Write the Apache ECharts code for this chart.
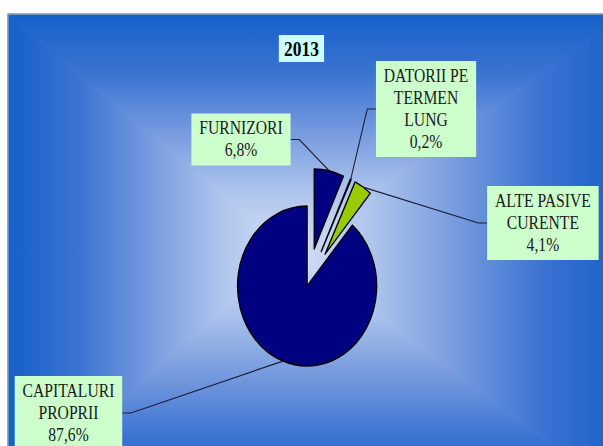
<!DOCTYPE html>
<html>
<head>
<meta charset="utf-8">
<script src="https://cdn.jsdelivr.net/npm/echarts@6/dist/echarts.min.js"></script>
<style>
html,body{margin:0;padding:0;background:#fff;overflow:hidden;width:603px;height:446px;}
#chart{width:693px;height:446px;transform:scaleX(0.87);transform-origin:0 0;}
</style>
</head>
<body>
<div id="chart"></div>
<script>
// ---- data ----
const TITLE = '2013';
const CATEGORIES = ['FURNIZORI', 'DATORII PE\nTERMEN\nLUNG', 'ALTE PASIVE\nCURENTE', 'CAPITALURI\nPROPRII'];
const VALUES = [6.8, 0.2, 4.1, 87.6];
const EXPLODED = [true, true, true, false];

// ---- styles / layout ----
const COLORS = ['#000080', '#000080', '#99cc00', '#000080'];
const LABEL_POS = [[277, 139.5], [489.7, 109], [624, 223], [78.7, 413]];
const PIE_CENTER = [353, 286];
const PIE_R = 80;
const EXPLODE = 38;
const SERIF = '"Liberation Serif", "Times New Roman", serif';

const L = 9.2, T = 14, R = 720, B = 500, CX = 333, CY = 250;
const STOPS = [
  {offset: 0, color: '#1560c8'},
  {offset: 0.25, color: '#3b73d2'},
  {offset: 0.5, color: '#759ade'},
  {offset: 0.75, color: '#adc4ec'},
  {offset: 1, color: '#d4e0f5'}
];
function grad(x0, y0, x1, y1) { return new echarts.graphic.LinearGradient(x0, y0, x1, y1, STOPS); }
function tri(points, g) {
  return {type: 'polygon', silent: true, z: -10, shape: {points: points},
          style: {fill: g, stroke: g, lineWidth: 1}};
}
const fmt = v => v.toFixed(1).replace('.', ',') + '%';

const labelStyle = {
  show: true, position: 'outside',
  formatter: p => p.name + '\n' + fmt(p.value),
  backgroundColor: '#ccffcc', padding: [4, 9],
  color: '#1a1a1a', fontFamily: SERIF, fontSize: 18, lineHeight: 22, align: 'center'
};
const lineStyle = {show: true, length: 10, length2: 10, minTurnAngle: 0,
                   lineStyle: {color: '#1c1c30', width: 1.2}};

// a transparent pie that only carries the labels of the slices for which pick(i) is true
function labelSeries(radius, pick, z) {
  return {
    type: 'pie', center: PIE_CENTER, radius: radius, startAngle: 90, clockwise: true,
    z: z, silent: true, avoidLabelOverlap: false, minAngle: 0,
    emphasis: {disabled: true},
    itemStyle: {color: 'rgba(0,0,0,0)', borderWidth: 0},
    label: labelStyle,
    labelLine: lineStyle,
    labelLayout: p => ({x: LABEL_POS[p.dataIndex][0], y: LABEL_POS[p.dataIndex][1], align: 'center', verticalAlign: 'middle'}),
    data: CATEGORIES.map((n, i) => ({
      name: n, value: VALUES[i],
      label: {show: pick(i)}, labelLine: {show: pick(i)}
    }))
  };
}

const chart = echarts.init(document.getElementById('chart'), null, {renderer: 'svg'});
chart.setOption({
  animation: false,
  textStyle: {fontFamily: SERIF},
  graphic: [
    tri([[L, T], [R, T], [CX, CY]], grad(0, 0, 0, 1)),
    tri([[L, B], [R, B], [CX, CY]], grad(0, 1, 0, 0)),
    tri([[L, T], [L, B], [CX, CY]], grad(0, 0, 1, 0)),
    tri([[R, T], [R, B], [CX, CY]], grad(1, 0, 0, 0)),
    {type: 'polyline', silent: true, z: -9, shape: {points: [[L, B], [L, T], [R, T]]},
     style: {stroke: '#98a4b4', lineWidth: 1.5, fill: null}}
  ],
  title: {
    text: TITLE, left: 'center', top: 35,
    backgroundColor: '#ccffff', padding: [4, 6, 3, 6],
    textStyle: {fontFamily: SERIF, fontWeight: 'bold', fontSize: 20, color: '#000', lineHeight: 20}
  },
  series: [
    labelSeries(PIE_R + EXPLODE, i => EXPLODED[i], 1),
    labelSeries(PIE_R, i => !EXPLODED[i], 1),
    {
      type: 'pie',
      center: PIE_CENTER,
      radius: PIE_R,
      startAngle: 90,
      clockwise: true,
      z: 3,
      selectedMode: 'multiple',
      selectedOffset: EXPLODE,
      minAngle: 0,
      emphasis: {disabled: true},
      itemStyle: {borderColor: '#000', borderWidth: 1.5},
      select: {itemStyle: {borderColor: '#000', borderWidth: 1.5}},
      label: {show: false},
      labelLine: {show: false},
      data: CATEGORIES.map((n, i) => ({
        name: n, value: VALUES[i], selected: EXPLODED[i],
        itemStyle: {color: COLORS[i]}, select: {itemStyle: {color: COLORS[i]}}
      }))
    }
  ]
});
</script>
</body>
</html>
